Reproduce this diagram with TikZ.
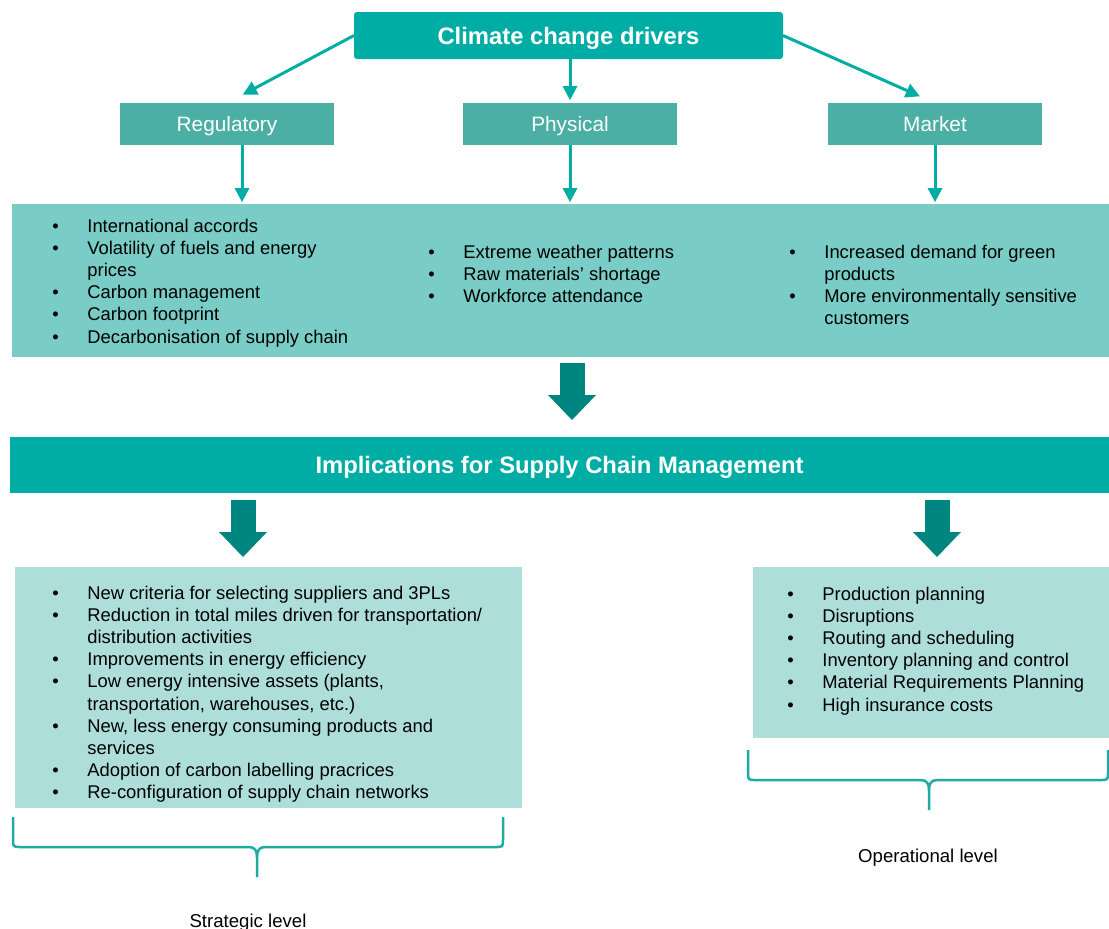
\documentclass[tikz,border=0pt]{standalone}
\usepackage{fontspec}
\setmainfont{Liberation Sans}
\usepackage{xcolor}
\usetikzlibrary{
arrows.meta,
calc,
positioning
}

\definecolor{drvteal}{RGB}{0,173,165}
\definecolor{subteal}{RGB}{76,175,166}
\definecolor{midteal}{RGB}{122,204,198}
\definecolor{lightteal}{RGB}{174,222,218}
\definecolor{darkteal}{RGB}{0,134,128}
\definecolor{braceteal}{RGB}{32,170,161}

\newcommand{\blist}[1]{\begin{tabular}[t]{@{}p{17.5pt}@{}l@{}}#1\end{tabular}}

\begin{document}
\begin{tikzpicture}[x=0.5pt, y=-0.5pt,
    >={Triangle[width=7.5pt,length=7pt,line width=0pt]},
    conn/.style={->, draw=drvteal, line width=1.5pt},
    blk/.style={-{Triangle[width=24pt,length=12.5pt,line width=0pt]}, draw=darkteal, line width=12.5pt},
    base/.style={anchor=north west, inner sep=0pt, outer sep=0pt},
    head/.style={base, fill=drvteal, text=white, text height=8.5pt, text depth=0pt, font=\fontsize{11.9}{14}\selectfont\bfseries},
    kind/.style={base, fill=subteal, text=white, minimum width=107pt, minimum height=21pt, text height=7.4pt, text depth=0pt, font=\fontsize{10.4}{12}\selectfont},
    lst/.style={anchor=base west, inner sep=0pt, font=\fontsize{9.2}{11.1}\selectfont},
    brc/.style={draw=braceteal, line width=1.25pt},
    lvl/.style={anchor=base, inner sep=0pt, font=\fontsize{9.3}{11}\selectfont}]
  \useasboundingbox (0,0) rectangle (1109,928);

  \node[head, rounded corners=1.5pt, minimum width=214.5pt, minimum height=23.5pt] (drivers) at (354,12) {Climate change drivers};
  \node[kind] (reg) at (120,103) {Regulatory};
  \node[kind] (phys) at (463,103) {Physical};
  \node[kind] (mkt) at (828,103) {Market};

  \draw[conn, shorten >=9pt] (drivers.west) -- (reg.north);
  \draw[conn, shorten >=1.5pt] (phys.north |- drivers.south) -- (phys.north);
  \draw[conn, shorten >=8.3pt] (drivers.east) -- (mkt.north);

  \node[base, fill=midteal, minimum width=548.5pt, minimum height=76.5pt] (drvbox) at (12,204) {};

  \draw[conn, shorten >=1pt] ([xshift=7.5pt]reg.south) -- ([xshift=7.5pt]reg.south |- drvbox.north);
  \draw[conn, shorten >=1pt] (phys.south) -- (phys.south |- drvbox.north);
  \draw[conn, shorten >=1pt] (mkt.south) -- (mkt.south |- drvbox.north);

  \node[lst] (reglist) at (52,232) {\blist{
    \textbullet & International accords\\
    \textbullet & Volatility of fuels and energy\\
                & prices\\
    \textbullet & Carbon management\\
    \textbullet & Carbon footprint\\
    \textbullet & Decarbonisation of supply chain}};
  \node[lst] (physlist) at (428,258) {\blist{
    \textbullet & Extreme weather patterns\\
    \textbullet & Raw materials' shortage\\
    \textbullet & Workforce attendance}};
  \node[lst] (mktlist) at (789,258) {\blist{
    \textbullet & Increased demand for green\\
                & products\\
    \textbullet & More environmentally sensitive\\
                & customers}};

  \node[head, minimum width=549.5pt, minimum height=28pt] (impl) at (10,437) {Implications for Supply Chain Management};
  \draw[blk, shorten <=3pt, shorten >=8.5pt] ([xshift=1pt]phys.south |- drvbox.south) -- ([xshift=1pt]phys.south |- impl.north);

  \node[base, fill=lightteal, minimum width=253.5pt, minimum height=120.5pt] (stratbox) at (15,567) {};
  \node[base, fill=lightteal, minimum width=178pt, minimum height=85.5pt] (opbox) at (753,567) {};

  \draw[blk, shorten <=3.5pt, shorten >=5pt] ([xshift=-12.75pt]stratbox.north |- impl.south) -- ([xshift=-12.75pt]stratbox.north);
  \draw[blk, shorten <=3.5pt, shorten >=5pt] ([xshift=3pt]opbox.north |- impl.south) -- ([xshift=3pt]opbox.north);

  \node[lst] (stratlist) at (52,599) {\blist{
    \textbullet & New criteria for selecting suppliers and 3PLs\\
    \textbullet & Reduction in total miles driven for transportation/\\
                & distribution activities\\
    \textbullet & Improvements in energy efficiency\\
    \textbullet & Low energy intensive assets (plants,\\
                & transportation, warehouses, etc.)\\
    \textbullet & New, less energy consuming products and\\
                & services\\
    \textbullet & Adoption of carbon labelling pracrices\\
    \textbullet & Re-configuration of supply chain networks}};
  \node[lst] (oplist) at (787,600) {\blist{
    \textbullet & Production planning\\
    \textbullet & Disruptions\\
    \textbullet & Routing and scheduling\\
    \textbullet & Inventory planning and control\\
    \textbullet & Material Requirements Planning\\
    \textbullet & High insurance costs}};

  % braces
  \draw[brc] (13,817) -- (13,839) .. controls (13,847) .. (21,847) -- (249,847)
    .. controls (255,847) and (257,851) .. (257,857) -- (257,877);
  \draw[brc] (503,817) -- (503,839) .. controls (503,847) .. (495,847) -- (265,847)
    .. controls (259,847) and (257,851) .. (257,857);
  \draw[brc] (748,750) -- (748,772) .. controls (748,780) .. (756,780) -- (921,780)
    .. controls (927,780) and (929,784) .. (929,790) -- (929,810);
  \draw[brc] (1108,750) -- (1108,772) .. controls (1108,780) .. (1100,780) -- (937,780)
    .. controls (931,780) and (929,784) .. (929,790);

  \node[lvl] (strat) at (248,927) {Strategic level};
  \node[lvl] (oper) at (928,862) {Operational level};
\end{tikzpicture}
\end{document}
